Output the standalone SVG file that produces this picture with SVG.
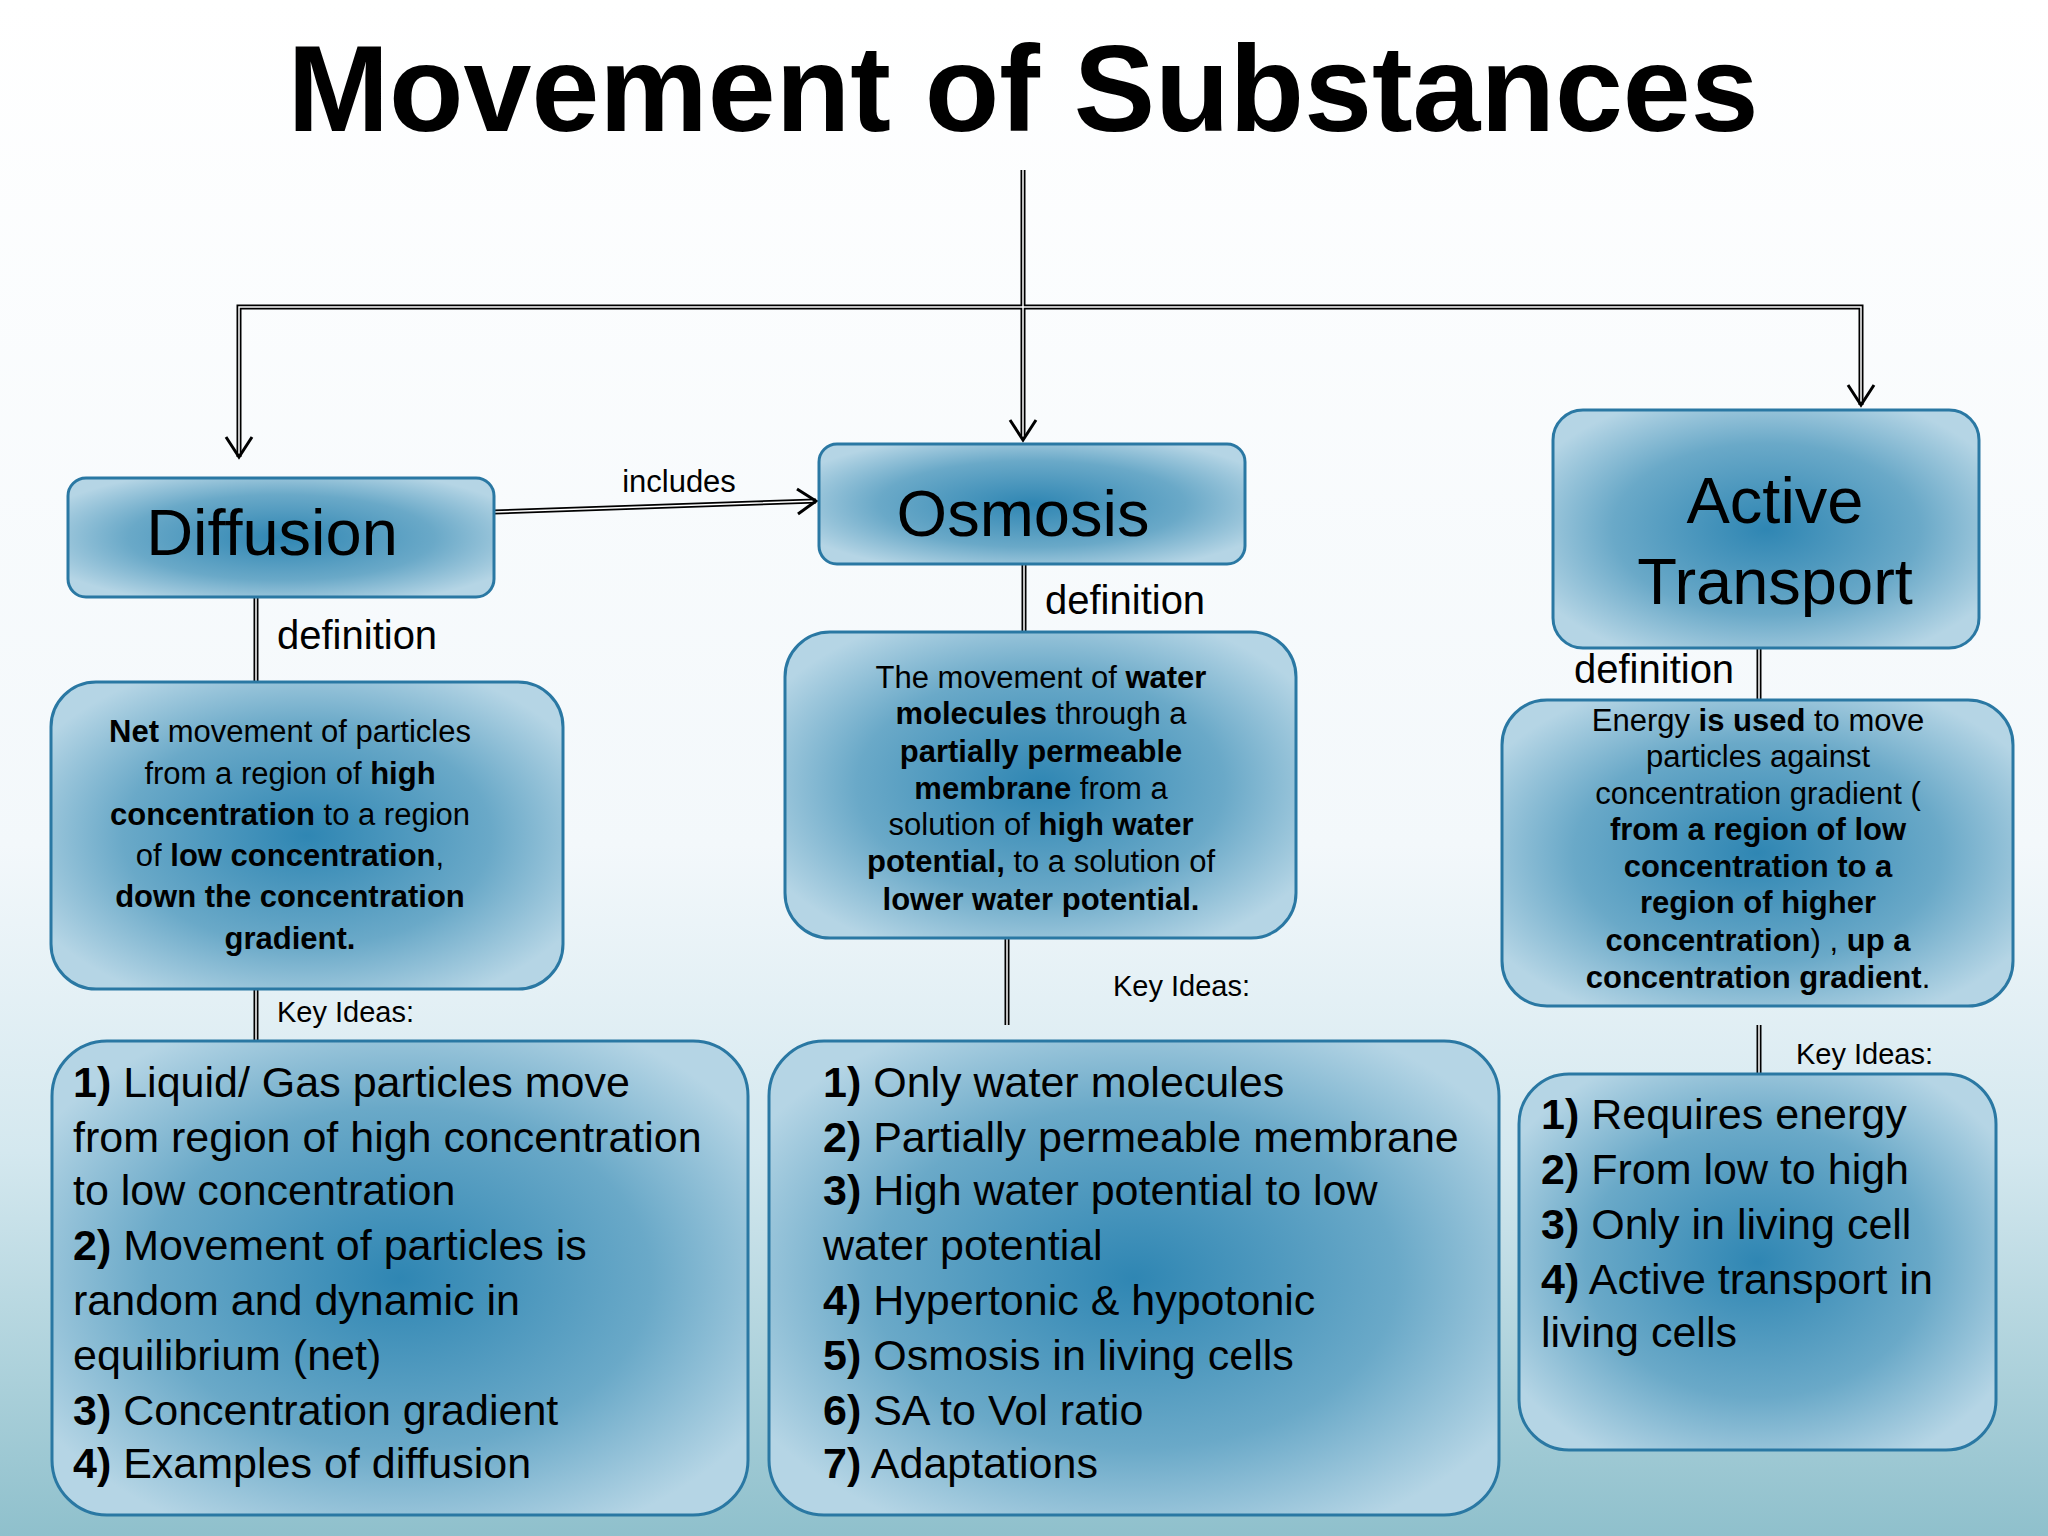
<svg xmlns="http://www.w3.org/2000/svg" width="2048" height="1536" viewBox="0 0 2048 1536">
<defs>
<linearGradient id="bg" x1="0" y1="0" x2="0" y2="1">
<stop offset="0" stop-color="#ffffff"/><stop offset="0.55" stop-color="#f3f8fb"/><stop offset="0.75" stop-color="#d4e8ef"/><stop offset="1" stop-color="#8fc0cc"/>
</linearGradient>
<radialGradient id="box" cx="0.5" cy="0.5" r="0.6">
<stop offset="0" stop-color="#2f86b3"/><stop offset="0.6" stop-color="#6aa9c8"/><stop offset="1" stop-color="#b5d5e5"/>
</radialGradient>
<marker id="ah" markerWidth="20" markerHeight="20" refX="16" refY="10" orient="auto" markerUnits="userSpaceOnUse">
<path d="M2,2 L16,10 L2,18" fill="none" stroke="#000" stroke-width="3"/>
</marker>
<style>
.bx{fill:url(#box);stroke:#2a78a3;stroke-width:3}
.t{font-family:"Liberation Sans",Arial,sans-serif;fill:#000}
.c{text-anchor:middle;dominant-baseline:central}
.d{font-size:31px}
.k{font-size:43px}
.b{font-weight:bold}
.ln{stroke:#000;stroke-width:5;fill:none}
.li{stroke:#fff;stroke-width:1.5;fill:none}
</style>
</defs>
<rect width="2048" height="1536" fill="url(#bg)"/>
<text class="t b" x="1023" y="131" font-size="122" text-anchor="middle">Movement of Substances</text>
<g id="connectors">
<path class="ln" d="M1023,170 V437 M239,457 V307 H1861 V405 M494,512 L816,501 M256,597 V682 M256,989 V1058 M1024,564 V632 M1007,938 V1025 M1759,648 V700 M1759,1025 V1074"/>
<path class="li" d="M1023,170 V437 M239,457 V307 H1861 V405 M494,512 L816,501 M256,597 V682 M256,989 V1058 M1024,564 V632 M1007,938 V1025 M1759,648 V700 M1759,1025 V1074"/>
<path d="M1010,420 L1023,440 L1036,420 M226,437 L239,457 L252,437 M1848,385 L1861,405 L1874,385 M797,489 L816,501 L798,514" fill="none" stroke="#000" stroke-width="3"/>
<text class="t" x="679" y="492" font-size="31" text-anchor="middle">includes</text>
<text class="t" x="277" y="649" font-size="40">definition</text>
<text class="t" x="1045" y="614" font-size="40">definition</text>
<text class="t" x="1574" y="683" font-size="40">definition</text>
<text class="t" x="277" y="1022" font-size="29">Key Ideas:</text>
<text class="t" x="1113" y="996" font-size="29">Key Ideas:</text>
<text class="t" x="1796" y="1064" font-size="29">Key Ideas:</text>
</g>
<g id="diffusion">
<rect class="bx" x="68" y="478" width="426" height="119" rx="18"/>
<text class="t c" x="272" y="532" font-size="65">Diffusion</text>
</g>
<g id="osmosis">
<rect class="bx" x="819" y="444" width="426" height="120" rx="18"/>
<text class="t c" x="1023" y="513" font-size="65">Osmosis</text>
</g>
<g id="active">
<rect class="bx" x="1553" y="410" width="426" height="238" rx="30"/>
<text class="t c" x="1775" y="500" font-size="65">Active</text>
<text class="t c" x="1775" y="581" font-size="65">Transport</text>
</g>
<g id="diffusion-def">
<rect class="bx" x="51" y="682" width="512" height="307" rx="45"/>
<text class="t c d" x="290" y="731"><tspan class="b">Net</tspan> movement of particles</text>
<text class="t c d" x="290" y="773">from a region of <tspan class="b">high</tspan></text>
<text class="t c d" x="290" y="814"><tspan class="b">concentration</tspan> to a region</text>
<text class="t c d" x="290" y="855">of <tspan class="b">low concentration</tspan>,</text>
<text class="t c d b" x="290" y="896">down the concentration</text>
<text class="t c d b" x="290" y="938">gradient.</text>
</g>
<g id="osmosis-def">
<rect class="bx" x="785" y="632" width="511" height="306" rx="45"/>
<text class="t c d" x="1041" y="677">The movement of <tspan class="b">water</tspan></text>
<text class="t c d" x="1041" y="713"><tspan class="b">molecules</tspan> through a</text>
<text class="t c d b" x="1041" y="751">partially permeable</text>
<text class="t c d" x="1041" y="788"><tspan class="b">membrane</tspan> from a</text>
<text class="t c d" x="1041" y="824">solution of <tspan class="b">high water</tspan></text>
<text class="t c d" x="1041" y="861"><tspan class="b">potential,</tspan> to a solution of</text>
<text class="t c d b" x="1041" y="899">lower water potential.</text>
</g>
<g id="active-def">
<rect class="bx" x="1502" y="700" width="511" height="306" rx="45"/>
<text class="t c d" x="1758" y="720">Energy <tspan class="b">is used</tspan> to move</text>
<text class="t c d" x="1758" y="756">particles against</text>
<text class="t c d" x="1758" y="793">concentration gradient (</text>
<text class="t c d b" x="1758" y="829">from a region of low</text>
<text class="t c d b" x="1758" y="866">concentration to a</text>
<text class="t c d b" x="1758" y="902">region of higher</text>
<text class="t c d" x="1758" y="940"><tspan class="b">concentration</tspan>) , <tspan class="b">up a</tspan></text>
<text class="t c d" x="1758" y="977"><tspan class="b">concentration gradient</tspan>.</text>
</g>
<g id="diffusion-key">
<rect class="bx" x="52" y="1041" width="696" height="474" rx="55"/>
<g class="t k">
<text x="73" y="1097"><tspan class="b">1)</tspan> Liquid/ Gas particles move</text>
<text x="73" y="1152">from region of high concentration</text>
<text x="73" y="1205">to low concentration</text>
<text x="73" y="1260"><tspan class="b">2)</tspan> Movement of particles is</text>
<text x="73" y="1315">random and dynamic in</text>
<text x="73" y="1370">equilibrium (net)</text>
<text x="73" y="1425"><tspan class="b">3)</tspan> Concentration gradient</text>
<text x="73" y="1478"><tspan class="b">4)</tspan> Examples of diffusion</text>
</g>
</g>
<g id="osmosis-key">
<rect class="bx" x="769" y="1041" width="730" height="474" rx="55"/>
<g class="t k">
<text x="823" y="1097"><tspan class="b">1)</tspan> Only water molecules</text>
<text x="823" y="1152"><tspan class="b">2)</tspan> Partially permeable membrane</text>
<text x="823" y="1205"><tspan class="b">3)</tspan> High water potential to low</text>
<text x="823" y="1260">water potential</text>
<text x="823" y="1315"><tspan class="b">4)</tspan> Hypertonic &amp; hypotonic</text>
<text x="823" y="1370"><tspan class="b">5)</tspan> Osmosis in living cells</text>
<text x="823" y="1425"><tspan class="b">6)</tspan> SA to Vol ratio</text>
<text x="823" y="1478"><tspan class="b">7)</tspan> Adaptations</text>
</g>
</g>
<g id="active-key">
<rect class="bx" x="1519" y="1074" width="477" height="376" rx="50"/>
<g class="t k">
<text x="1541" y="1129"><tspan class="b">1)</tspan> Requires energy</text>
<text x="1541" y="1184"><tspan class="b">2)</tspan> From low to high</text>
<text x="1541" y="1239"><tspan class="b">3)</tspan> Only in living cell</text>
<text x="1541" y="1294"><tspan class="b">4)</tspan> Active transport in</text>
<text x="1541" y="1347">living cells</text>
</g>
</g>
</svg>
